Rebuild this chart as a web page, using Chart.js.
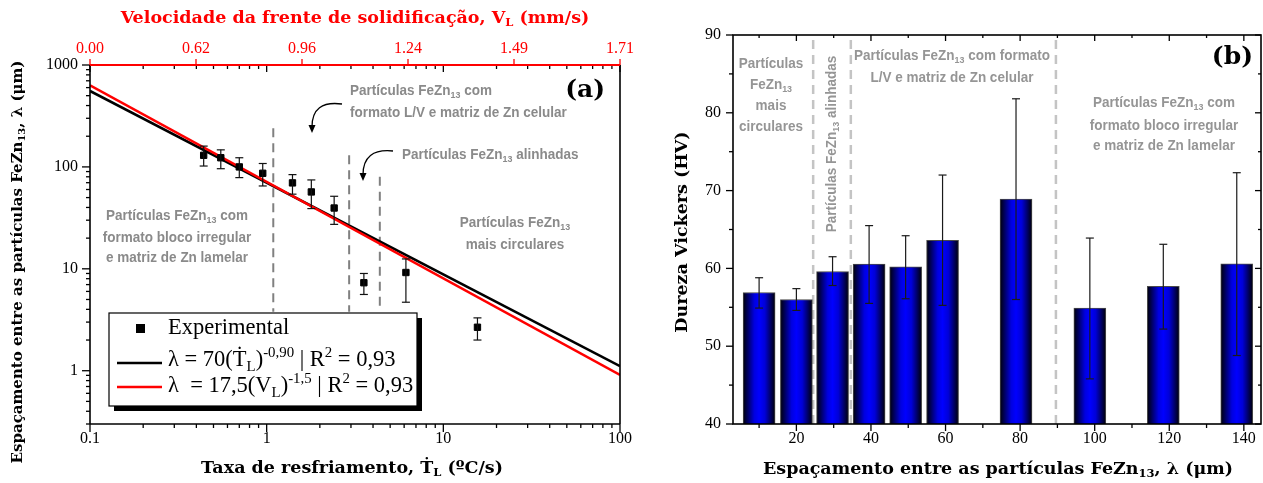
<!DOCTYPE html>
<html>
<head>
    <title>FeZn13 - espaçamento e dureza</title>
    <script src="https://cdn.jsdelivr.net/npm/chart.js"></script>
    <style>
        body { margin: 0; background: #fff; }
        #wrap { position: relative; width: 1263px; height: 483px; }
        #chartA { position: absolute; left: 0; top: 0; }
        #chartB { position: absolute; left: 640px; top: 0; }
    </style>
</head>
<body>
<div id="wrap">
    <canvas id="chartA" width="640" height="483" style="width:640px;height:483px"></canvas>
    <canvas id="chartB" width="623" height="483" style="width:623px;height:483px"></canvas>
</div>
<script>
    // ---- panel (a): spacing vs cooling rate ----
    const coolingRate = [0.44, 0.55, 0.70, 0.95, 1.40, 1.79, 2.41, 3.55, 6.14, 15.6];
    const spacing     = [130, 123, 100, 86.6, 69.7, 56.8, 39.5, 7.3, 9.2, 2.67];
    const spacingHi   = [160, 147, 123, 108, 84, 74.5, 51.5, 9.0, 12.5, 3.3];
    const spacingLo   = [102, 96, 78.5, 65, 54, 39, 27.3, 5.6, 4.7, 2.0];
    const fitX        = [0.1, 100];
    const fitRateY    = [556, 1.11];   // lambda = 70 (T)^-0.90
    const fitVelY     = [630, 0.91];   // lambda = 17.5 (V)^-1.5
    const regionX     = [1.09, 2.93, 4.37];
    const regionTop   = [240, 130, 80];
    const regionBottom = 3.8;
    const velocityTicks = ['0.00', '0.62', '0.96', '1.24', '1.49', '1.71'];

    // ---- panel (b): hardness vs spacing ----
    const lambdaX  = [10, 20, 29.7, 39.5, 49.3, 59.2, 78.9, 98.7, 118.4, 138.1];
    const hardness = [56.9, 56.0, 59.6, 60.55, 60.2, 63.6, 68.9, 54.9, 57.7, 60.6];
    const hardHi   = [58.8, 57.4, 61.5, 65.5, 64.2, 72.0, 81.8, 63.9, 63.1, 72.3];
    const hardLo   = [54.9, 54.6, 57.8, 55.5, 56.1, 55.25, 56.0, 45.8, 52.2, 48.8];
    const zoneX    = [24.5, 34.6, 89.6];

    const SERIF = '"DejaVu Serif", serif';
    const TICKFONT = '"Liberation Serif", serif';
    const SANS = '"Liberation Sans", Arial, sans-serif';
    const GREY = '#8a8a8a';

    // draws text with sub/superscript parts: ['text', 0|1|2] (0 normal, 1 sub, 2 sup)
    function drawRich(ctx, parts, x, y, o) {
        const sx = o.sx || 1;
        const fnt = sz => (o.weight || 'normal') + ' ' + sz + 'px ' + o.family;
        let w = 0;
        const items = parts.map(p => {
            const t = typeof p === 'string' ? p : p[0];
            const m = typeof p === 'string' ? 0 : p[1];
            const sz = m ? o.size * 0.66 : o.size;
            ctx.font = fnt(sz);
            const iw = ctx.measureText(t).width;
            w += iw;
            return { t, m, sz, iw };
        });
        ctx.save();
        ctx.translate(x, y);
        ctx.scale(sx, 1);
        let cx = o.align === 'center' ? -w / 2 : o.align === 'right' ? -w : 0;
        ctx.fillStyle = o.color || '#000';
        ctx.textBaseline = 'middle';
        ctx.textAlign = 'left';
        items.forEach(it => {
            ctx.font = fnt(it.sz);
            const dy = it.m === 1 ? o.size * 0.3 : it.m === 2 ? -o.size * 0.3 : 0;
            ctx.fillText(it.t, cx, dy);
            cx += it.iw;
        });
        ctx.restore();
    }

    function line(ctx, x1, y1, x2, y2) {
        ctx.beginPath(); ctx.moveTo(x1, y1); ctx.lineTo(x2, y2); ctx.stroke();
    }

    function logTicks(min, max) {
        const out = [];
        for (let e = -2; e <= 4; e++) {
            for (let m = 1; m <= 9; m++) {
                const v = m * Math.pow(10, e);
                if (v >= min * 0.999 && v <= max * 1.001) out.push({ v, major: m === 1 });
            }
        }
        return out;
    }

    function arrow(ctx, x0, y0, cx, cy, x1, y1) {
        ctx.save();
        ctx.strokeStyle = '#000'; ctx.fillStyle = '#000'; ctx.lineWidth = 1.3;
        ctx.beginPath(); ctx.moveTo(x0, y0); ctx.quadraticCurveTo(cx, cy, x1, y1 - 6); ctx.stroke();
        ctx.beginPath(); ctx.moveTo(x1 - 3.5, y1 - 8); ctx.lineTo(x1 + 3.5, y1 - 8); ctx.lineTo(x1, y1); ctx.closePath(); ctx.fill();
        ctx.restore();
    }

    function isDecade(v) {
        const l = Math.log10(v);
        return Math.abs(l - Math.round(l)) < 1e-6;
    }

    // fixed axis sizes, no extra label padding
    function fixSize(w, h) {
        return s => {
            if (w !== null) s.width = w;
            if (h !== null) s.height = h;
            s.paddingLeft = 0; s.paddingRight = 0; s.paddingTop = 0; s.paddingBottom = 0;
        };
    }

    // ---------------- panel (a) ----------------
    const panelA = {
        id: 'panelA',
        afterDatasetsDraw(chart) {
            const ctx = chart.ctx, xs = chart.scales.x, ys = chart.scales.y;
            ctx.save();
            ctx.strokeStyle = '#111'; ctx.lineWidth = 1.2;
            coolingRate.forEach((v, i) => {
                const px = xs.getPixelForValue(v);
                const hi = ys.getPixelForValue(spacingHi[i]), lo = ys.getPixelForValue(spacingLo[i]);
                line(ctx, px, hi, px, lo);
                line(ctx, px - 4, hi, px + 4, hi);
                line(ctx, px - 4, lo, px + 4, lo);
            });
            ctx.restore();
        },
        afterDraw(chart) {
            const ctx = chart.ctx, a = chart.chartArea;
            const xs = chart.scales.x, ys = chart.scales.y, x2 = chart.scales.x2;
            ctx.save();
            // ticks
            ctx.strokeStyle = '#000'; ctx.lineWidth = 1.3;
            logTicks(0.1, 100).forEach(t => {
                const px = xs.getPixelForValue(t.v);
                line(ctx, px, a.bottom, px, a.bottom + (t.major ? 8 : 4));
                line(ctx, px, a.top, px, a.top + (t.major ? 7 : 4));
            });
            logTicks(0.3, 1000).forEach(t => {
                const py = ys.getPixelForValue(t.v);
                line(ctx, a.left, py, a.left - (t.major ? 8 : 4), py);
            });
            // frame
            ctx.lineWidth = 1.6;
            line(ctx, a.left, a.top, a.left, a.bottom);
            line(ctx, a.left, a.bottom, a.right, a.bottom);
            line(ctx, a.right, a.top, a.right, a.bottom);
            ctx.strokeStyle = '#ff0000'; ctx.lineWidth = 2;
            line(ctx, a.left, a.top, a.right, a.top);
            ctx.lineWidth = 1.3;
            velocityTicks.forEach((_, i) => {
                const px = x2.getPixelForValue(i);
                line(ctx, px, a.top, px, a.top - 6);
            });

            // annotations
            const ann = { family: SANS, weight: 'bold', size: 15, color: GREY, sx: 0.9 };
            drawRich(ctx, ['Partículas FeZn', ['13', 1], ' com'], 350, 91, ann);
            drawRich(ctx, ['formato L/V e matriz de Zn celular'], 350, 113, ann);
            drawRich(ctx, ['Partículas FeZn', ['13', 1], ' alinhadas'], 402, 155, ann);
            const annC = Object.assign({}, ann, { align: 'center' });
            drawRich(ctx, ['Partículas FeZn', ['13', 1], ' com'], 177, 216, annC);
            drawRich(ctx, ['formato bloco irregular'], 177, 238, annC);
            drawRich(ctx, ['e matriz de Zn lamelar'], 177, 258, annC);
            drawRich(ctx, ['Partículas FeZn', ['13', 1]], 515, 223, annC);
            drawRich(ctx, ['mais circulares'], 515, 245, annC);
            arrow(ctx, 342, 104, 312, 100, 312, 133);
            arrow(ctx, 393, 151, 363, 148, 363, 181);

            drawRich(ctx, ['(a)'], 605, 90, { family: SERIF, weight: 'bold', size: 25, align: 'right' });

            // legend
            ctx.fillStyle = '#000';
            ctx.fillRect(114, 318, 308, 93);
            ctx.fillStyle = '#fff';
            ctx.fillRect(109, 313, 308, 93);
            ctx.strokeStyle = '#000'; ctx.lineWidth = 1.2;
            ctx.strokeRect(109, 313, 308, 93);
            ctx.fillStyle = '#000';
            ctx.fillRect(136, 324, 9, 9);
            ctx.lineWidth = 2.5;
            line(ctx, 117, 363, 162, 363);
            ctx.strokeStyle = '#ff0000';
            line(ctx, 117, 387, 162, 387);
            const lg = { family: TICKFONT, size: 22.5, color: '#000' };
            drawRich(ctx, ['Experimental'], 168, 328, lg);
            drawRich(ctx, ['λ = 70(Ṫ', ['L', 1], ')', ['-0,90', 2], ' | R', ['2', 2], ' = 0,93'], 168, 360, lg);
            drawRich(ctx, ['λ  = 17,5(V', ['L', 1], ')', ['-1,5', 2], ' | R', ['2', 2], ' = 0,93'], 168, 386, lg);

            // axis titles
            const ttl = { family: SERIF, weight: 'bold', size: 17.5, align: 'center' };
            drawRich(ctx, ['Taxa de resfriamento, Ṫ', ['L', 1], ' (ºC/s)'], 352, 468, ttl);
            drawRich(ctx, ['Velocidade da frente de solidificação, V', ['L', 1], ' (mm/s)'], 355, 18,
                Object.assign({}, ttl, { color: '#ff0000' }));
            ctx.save();
            ctx.translate(18, 262);
            ctx.rotate(-Math.PI / 2);
            drawRich(ctx, ['Espaçamento entre as partículas FeZn', ['13', 1], ', λ (μm)'], 0, 0,
                Object.assign({}, ttl, { size: 15 }));
            ctx.restore();
            ctx.restore();
        }
    };

    const regionSets = regionX.map((v, i) => ({
        type: 'line',
        data: [{ x: v, y: regionTop[i] }, { x: v, y: regionBottom }],
        borderColor: '#808080', borderWidth: 2, borderDash: [9, 6],
        pointRadius: 0, order: 5
    }));

    new Chart(document.getElementById('chartA'), {
        type: 'scatter',
        data: {
            datasets: [
                {
                    label: 'Experimental',
                    data: coolingRate.map((v, i) => ({ x: v, y: spacing[i] })),
                    pointStyle: 'rect', pointRadius: 4.5,
                    backgroundColor: '#000', borderColor: '#000', order: 1
                },
                {
                    type: 'line', label: 'fit T',
                    data: fitX.map((v, i) => ({ x: v, y: fitRateY[i] })),
                    borderColor: '#000', borderWidth: 2.5, pointRadius: 0, order: 3
                },
                {
                    type: 'line', label: 'fit V',
                    data: fitX.map((v, i) => ({ x: v, y: fitVelY[i] })),
                    borderColor: '#ff0000', borderWidth: 2.5, pointRadius: 0, order: 2
                },
                ...regionSets
            ]
        },
        options: {
            responsive: false,
            animation: false,
            devicePixelRatio: 1,
            layout: { padding: { right: 20, top: 0, left: 0, bottom: 0 } },
            plugins: { legend: { display: false }, tooltip: { enabled: false } },
            scales: {
                x: {
                    type: 'logarithmic', min: 0.1, max: 100, position: 'bottom',
                    grid: { display: false, drawTicks: false }, border: { display: false },
                    ticks: {
                        autoSkip: false, maxRotation: 0, padding: 5, color: '#000',
                        font: { family: TICKFONT, size: 16 },
                        callback: v => isDecade(v) ? String(+v.toPrecision(3)) : ''
                    },
                    afterFit: fixSize(null, 59)
                },
                x2: {
                    type: 'linear', min: 0, max: 5, position: 'top',
                    grid: { display: false, drawTicks: false }, border: { display: false },
                    ticks: {
                        stepSize: 1, maxRotation: 0, padding: 7, color: '#ff0000',
                        font: { family: TICKFONT, size: 16 },
                        callback: v => velocityTicks[v]
                    },
                    afterFit: fixSize(null, 65)
                },
                y: {
                    type: 'logarithmic', min: 0.3, max: 1000,
                    grid: { display: false, drawTicks: false }, border: { display: false },
                    ticks: {
                        autoSkip: false, padding: 12, color: '#000',
                        font: { family: TICKFONT, size: 16 },
                        callback: v => isDecade(v) ? String(+v.toPrecision(3)) : ''
                    },
                    afterFit: fixSize(90, null)
                }
            }
        },
        plugins: [panelA]
    });

    // ---------------- panel (b) ----------------
    const panelB = {
        id: 'panelB',
        afterDatasetsDraw(chart) {
            const ctx = chart.ctx, xs = chart.scales.x, ys = chart.scales.y;
            ctx.save();
            ctx.strokeStyle = '#1a1a1a'; ctx.lineWidth = 1.2;
            lambdaX.forEach((v, i) => {
                const px = xs.getPixelForValue(v);
                const hi = ys.getPixelForValue(hardHi[i]), lo = ys.getPixelForValue(hardLo[i]);
                line(ctx, px, hi, px, lo);
                line(ctx, px - 4, hi, px + 4, hi);
                line(ctx, px - 4, lo, px + 4, lo);
            });
            ctx.restore();
        },
        afterDraw(chart) {
            const ctx = chart.ctx, a = chart.chartArea;
            const xs = chart.scales.x, ys = chart.scales.y;
            ctx.save();
            ctx.strokeStyle = '#000'; ctx.lineWidth = 1.3;
            for (let v = 10; v <= 140; v += 10) {
                const px = xs.getPixelForValue(v);
                const major = v % 20 === 0;
                line(ctx, px, a.bottom, px, a.bottom + (major ? 7 : 4));
                line(ctx, px, a.top, px, a.top + (major ? 6 : 3));
            }
            for (let v = 40; v <= 90; v += 5) {
                const py = ys.getPixelForValue(v);
                const major = v % 10 === 0;
                line(ctx, a.left, py, a.left - (major ? 7 : 4), py);
                line(ctx, a.right, py, a.right - (major ? 6 : 3), py);
            }
            ctx.lineWidth = 1.6;
            ctx.strokeRect(a.left, a.top, a.right - a.left, a.bottom - a.top);

            const ann = { family: SANS, weight: 'bold', size: 15, color: '#959595', sx: 0.9, align: 'center' };
            drawRich(ctx, ['Partículas'], 131, 64, ann);
            drawRich(ctx, ['FeZn', ['13', 1]], 131, 85, ann);
            drawRich(ctx, ['mais'], 131, 106, ann);
            drawRich(ctx, ['circulares'], 131, 127, ann);
            ctx.save();
            ctx.translate(192, 144);
            ctx.rotate(-Math.PI / 2);
            drawRich(ctx, ['Partículas FeZn', ['13', 1], ' alinhadas'], 0, 0, ann);
            ctx.restore();
            drawRich(ctx, ['Partículas FeZn', ['13', 1], ' com formato'], 312, 56, ann);
            drawRich(ctx, ['L/V e matriz de Zn celular'], 312, 78, ann);
            drawRich(ctx, ['Partículas FeZn', ['13', 1], ' com'], 524, 103, ann);
            drawRich(ctx, ['formato bloco irregular'], 524, 126, ann);
            drawRich(ctx, ['e matriz de Zn lamelar'], 524, 146, ann);

            drawRich(ctx, ['(b)'], 613, 57, { family: SERIF, weight: 'bold', size: 25, align: 'right' });

            const ttl = { family: SERIF, weight: 'bold', size: 17.5, align: 'center' };
            drawRich(ctx, ['Espaçamento entre as partículas FeZn', ['13', 1], ', λ (μm)'], 358, 469, ttl);
            ctx.save();
            ctx.translate(42, 232);
            ctx.rotate(-Math.PI / 2);
            drawRich(ctx, ['Dureza Vickers (HV)'], 0, 0, ttl);
            ctx.restore();
            ctx.restore();
        }
    };

    function barGradient(c) {
        const xs = c.chart.scales.x;
        if (c.type !== 'data' || !xs || !c.raw) return '#0000ff';
        const px = xs.getPixelForValue(c.raw.x);
        if (!isFinite(px)) return '#0000ff';
        const g = c.chart.ctx.createLinearGradient(px - 16, 0, px + 16, 0);
        g.addColorStop(0, '#000008');
        g.addColorStop(0.35, '#0000e0');
        g.addColorStop(0.5, '#0000ff');
        g.addColorStop(0.68, '#0000d8');
        g.addColorStop(1, '#000008');
        return g;
    }

    const zoneSets = zoneX.map(v => ({
        type: 'line',
        data: [{ x: v, y: 40 }, { x: v, y: 90 }],
        borderColor: '#c4c4c4', borderWidth: 2.5, borderDash: [9, 6],
        pointRadius: 0, order: 5
    }));

    new Chart(document.getElementById('chartB'), {
        type: 'bar',
        data: {
            datasets: [
                {
                    label: 'HV',
                    data: lambdaX.map((v, i) => ({ x: v, y: hardness[i] })),
                    backgroundColor: barGradient,
                    borderColor: '#4a4a4a', borderWidth: 1,
                    barThickness: 32, order: 1
                },
                ...zoneSets
            ]
        },
        options: {
            responsive: false,
            animation: false,
            devicePixelRatio: 1,
            layout: { padding: { right: 2, top: 35, left: 0, bottom: 0 } },
            plugins: { legend: { display: false }, tooltip: { enabled: false } },
            scales: {
                x: {
                    type: 'linear', min: 3, max: 144.6, offset: false,
                    grid: { display: false, drawTicks: false, offset: false }, border: { display: false },
                    ticks: {
                        stepSize: 10, includeBounds: false, autoSkip: false, maxRotation: 0, padding: 5, color: '#000',
                        font: { family: TICKFONT, size: 16 },
                        callback: v => (v % 20 === 0 ? String(v) : '')
                    },
                    afterFit: fixSize(null, 59)
                },
                y: {
                    type: 'linear', min: 40, max: 90,
                    grid: { display: false, drawTicks: false }, border: { display: false },
                    ticks: {
                        stepSize: 10, padding: 12, color: '#000',
                        font: { family: TICKFONT, size: 16 }
                    },
                    afterFit: fixSize(93, null)
                }
            }
        },
        plugins: [panelB]
    });
</script>
</body>
</html>
